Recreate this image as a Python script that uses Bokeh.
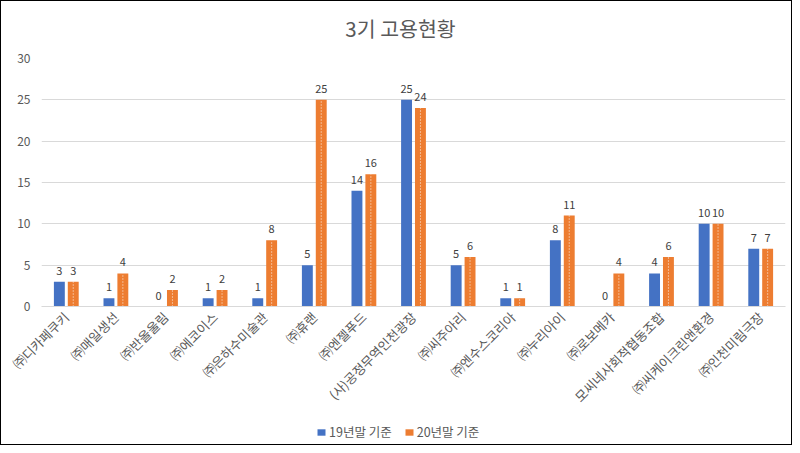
import math
from bokeh.plotting import figure
from bokeh.layouts import column
from bokeh.models import (ColumnDataSource, FactorRange, Range1d, Legend, LegendItem,
                          FixedTicker, Label)
from bokeh.transform import dodge
from bokeh.core.properties import value
from bokeh.embed import file_html
from bokeh.resources import INLINE

# ---- data ----
companies = ["㈜디카페쿠키", "㈜매일생선", "㈜반올울림", "㈜에코이스", "㈜은하수미술관",
             "㈜휴랜", "㈜엔젤푸드", "(사)공정무역인천광장", "㈜씨주아리", "㈜엔수스코리아",
             "㈜누리아이", "㈜로보메카", "모씨네사회적협동조합", "㈜씨케이크린앤환경", "㈜인천미림극장"]
y2019 = [3, 1, 0, 1, 1, 5, 14, 25, 5, 1, 8, 0, 4, 10, 7]
y2020 = [3, 4, 2, 2, 8, 25, 16, 24, 6, 1, 11, 4, 6, 10, 7]
series_names = ["19년말 기준", "20년말 기준"]
y_ticks = [0, 5, 10, 15, 20, 25, 30]
title_text = "3기 고용현황"

FONT = "Noto Sans CJK KR"
GRAY = "#595959"
BLUE = "#4472C4"
ORANGE = "#ED7D31"
W = 790
TITLE_H = 40
MAIN_H = 374
LEG_H = 29


def strip(h):
    f = figure(width=W, height=h, x_range=Range1d(0, 1), y_range=Range1d(0, 1),
               output_backend="svg", toolbar_location=None,
               min_border_left=0, min_border_right=0, min_border_top=0, min_border_bottom=0)
    f.axis.visible = False
    f.grid.visible = False
    f.outline_line_color = None
    return f


# ---- title strip ----
tg = strip(TITLE_H)
tg.add_layout(Label(x=0.4825, y=0.35, text=title_text, text_align="center",
                    text_baseline="middle", text_font=FONT, text_font_size="20.5px",
                    text_color=GRAY))

# ---- main chart ----
src = ColumnDataSource(dict(
    x=companies, a=y2019, b=y2020,
    la=[str(v) for v in y2019], lb=[str(v) for v in y2020],
    zero=[0] * len(companies),
))

p = figure(width=W, height=MAIN_H,
           x_range=FactorRange(*companies), y_range=Range1d(0, 30),
           output_backend="svg", toolbar_location=None,
           min_border_left=40, min_border_right=6, min_border_top=17,
           min_border_bottom=100)

off = 0.14
w = 0.22
r1 = p.vbar(x=dodge("x", -off, range=p.x_range), top="a", width=w, source=src,
            fill_color=BLUE, line_color=None)
r2 = p.vbar(x=dodge("x", off, range=p.x_range), top="b", width=w, source=src,
            fill_color=ORANGE, line_color=None)
p.segment(x0=dodge("x", off, range=p.x_range), y0="zero",
          x1=dodge("x", off, range=p.x_range), y1="b", source=src,
          line_color="white", line_dash="1 2", line_width=1, line_alpha=0.9)

for col, lab, o in (("a", "la", -off), ("b", "lb", off)):
    p.text(x=dodge("x", o, range=p.x_range), y=col, text=lab, source=src,
           text_align="center", text_baseline="bottom", y_offset=-7,
           text_font=value(FONT), text_font_size="11px", text_color="#404040")

p.yaxis.ticker = FixedTicker(ticks=y_ticks)
p.yaxis.axis_line_color = None
p.yaxis.major_tick_line_color = None
p.yaxis.minor_tick_line_color = None
p.yaxis.major_tick_out = 0
p.yaxis.major_label_standoff = 11
p.yaxis.major_label_text_font_size = "12px"
p.xaxis.axis_line_color = "#d9d9d9"
p.xaxis.major_tick_line_color = None
p.xaxis.major_tick_out = 0
p.xaxis.major_label_orientation = math.pi / 4
p.xaxis.major_label_standoff = 8
p.xaxis.major_label_text_font_size = "13px"
for ax in (p.xaxis, p.yaxis):
    ax.major_label_text_font = FONT
    ax.major_label_text_color = GRAY

p.xgrid.grid_line_color = None
p.ygrid.grid_line_color = "#d9d9d9"
p.outline_line_color = None

# ---- legend strip below the chart ----
lg = strip(LEG_H)
proxy = ColumnDataSource(dict(x=[0], top=[0]))
g1 = lg.vbar(x="x", top="top", width=0, source=proxy, fill_color=BLUE, line_color=None)
g2 = lg.vbar(x="x", top="top", width=0, source=proxy, fill_color=ORANGE, line_color=None)
legend = Legend(items=[LegendItem(label=series_names[0], renderers=[g1]),
                       LegendItem(label=series_names[1], renderers=[g2])],
                orientation="horizontal", location=(275, 3),
                label_text_font=FONT, label_text_font_size="12.5px", label_text_color=GRAY,
                glyph_width=10, glyph_height=8, spacing=12, label_standoff=3,
                border_line_color=None, background_fill_alpha=0, padding=3, margin=0)
lg.add_layout(legend, "center")

layout = column(tg, p, lg, spacing=0)
layout.styles = {"border": "1px solid #000"}

open("out.html", "w").write(file_html(layout, INLINE))
